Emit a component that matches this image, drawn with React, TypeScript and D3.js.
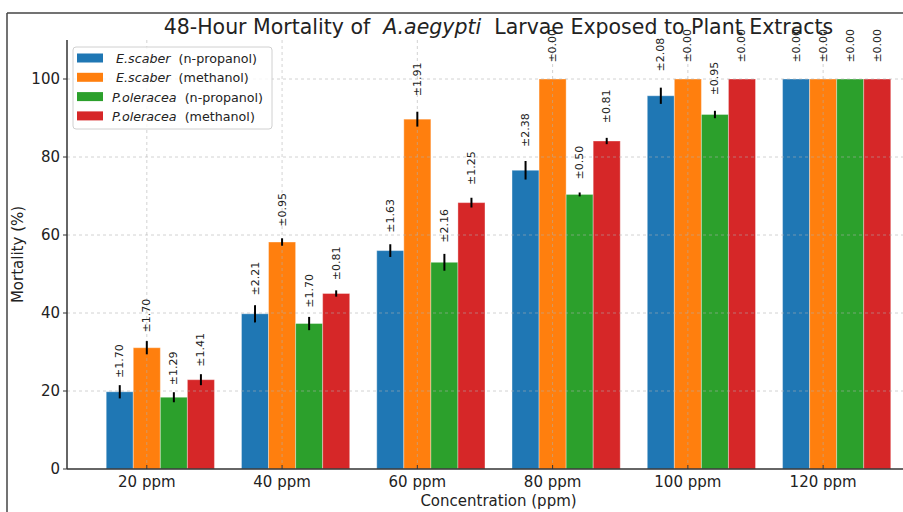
import React from "react";
import * as d3 from "d3";

const categories = ["20 ppm", "40 ppm", "60 ppm", "80 ppm", "100 ppm", "120 ppm"];
const seriesSpecies = ["E.scaber", "E.scaber", "P.oleracea", "P.oleracea"];
const seriesSolvent = ["(n-propanol)", "(methanol)", "(n-propanol)", "(methanol)"];
const seriesColors = ["#1f77b4", "#ff7f0e", "#2ca02c", "#d62728"];

const esNprop = [19.8, 39.8, 56.0, 76.6, 95.7, 100];
const esMeth = [31.1, 58.2, 89.7, 100, 100, 100];
const poNprop = [18.4, 37.3, 53.0, 70.4, 90.9, 100];
const poMeth = [22.9, 45.0, 68.3, 84.1, 100, 100];

const esNpropErr = [1.7, 2.21, 1.63, 2.38, 2.08, 0.0];
const esMethErr = [1.7, 0.95, 1.91, 0.0, 0.0, 0.0];
const poNpropErr = [1.29, 1.7, 2.16, 0.5, 0.95, 0.0];
const poMethErr = [1.41, 0.81, 1.25, 0.81, 0.0, 0.0];

const yTicks = [0, 20, 40, 60, 80, 100];

const values = [esNprop, esMeth, poNprop, poMeth];
const errors = [esNpropErr, esMethErr, poNpropErr, poMethErr];

const FONT = "DejaVu Sans, sans-serif";

export default function App() {
  const W = 903;
  const H = 512;
  const left = 67;
  const right = 930;
  const top = 40;
  const bottom = 469;
  const barW = 0.2;

  const x = d3.scaleLinear().domain([-0.59, 5.79]).range([left, right]);
  const y = d3.scaleLinear().domain([0, 110]).range([bottom, top]);
  const bw = x(barW) - x(0);

  const bars: React.ReactNode[] = [];
  const errs: React.ReactNode[] = [];
  const labels: React.ReactNode[] = [];
  values.forEach((vals, s) => {
    vals.forEach((v, i) => {
      const cx = x(i + (s - 1) * barW);
      const e = errors[s][i];
      bars.push(
        <rect
          key={`b${s}-${i}`}
          x={cx - bw / 2}
          y={y(v)}
          width={bw}
          height={y(0) - y(v)}
          fill={seriesColors[s]}
          stroke="#ffffff"
          strokeOpacity={0.35}
          strokeWidth={1}
        />
      );
      if (e > 0) {
        errs.push(
          <line
            key={`e${s}-${i}`}
            x1={cx}
            x2={cx}
            y1={y(v - e)}
            y2={y(v + e)}
            stroke="#000"
            strokeWidth={2}
          />
        );
      }
      const ly = y((v + e) * 1.03 + 1.2);
      labels.push(
        <text
          key={`l${s}-${i}`}
          transform={`translate(${cx},${ly}) rotate(-90)`}
          fontSize={11}
          fontFamily={FONT}
          fill="#222"
          dominantBaseline="central"
          textAnchor="start"
        >
          {"±" + e.toFixed(2)}
        </text>
      );
    });
  });

  return (
    <svg
      width={W}
      height={H}
      style={{ position: "absolute", left: 0, top: 0, background: "#fff" }}
      fontFamily={FONT}
    >
      <rect x={0} y={0} width={W} height={H} fill="#fff" />
      {/* outer frame */}
      <line x1={7} x2={W} y1={13} y2={13} stroke="#444" strokeWidth={1.5} />
      <line x1={7} x2={7} y1={13} y2={H} stroke="#444" strokeWidth={1.5} />

      {bars}

      {/* grid */}
      {yTicks.filter((t) => t > 0).map((t) => (
        <line
          key={`gy${t}`}
          x1={left}
          x2={right}
          y1={y(t)}
          y2={y(t)}
          stroke="#b0b0b0"
          strokeWidth={0.8}
          strokeDasharray="3,3"
          opacity={0.7}
        />
      ))}
      {categories.map((c, i) => (
        <line
          key={`gx${i}`}
          x1={x(i)}
          x2={x(i)}
          y1={top}
          y2={bottom}
          stroke="#b0b0b0"
          strokeWidth={0.8}
          strokeDasharray="3,3"
          opacity={0.7}
        />
      ))}

      {errs}
      {labels}

      {/* axes */}
      <line x1={left} x2={left} y1={top} y2={bottom} stroke="#333" strokeWidth={1.5} />
      <line x1={left} x2={right} y1={bottom} y2={bottom} stroke="#333" strokeWidth={1.5} />

      {yTicks.map((t) => (
        <g key={`yt${t}`}>
          <line x1={left - 4} x2={left} y1={y(t)} y2={y(t)} stroke="#333" strokeWidth={1} />
          <text
            x={left - 7}
            y={y(t)}
            textAnchor="end"
            dominantBaseline="central"
            fontSize={15}
            fill="#222"
          >
            {t}
          </text>
        </g>
      ))}
      {categories.map((c, i) => (
        <g key={`xt${i}`}>
          <line x1={x(i)} x2={x(i)} y1={bottom} y2={bottom - 4} stroke="#333" strokeWidth={1} />
          <text
            x={x(i)}
            y={bottom + 18}
            textAnchor="middle"
            fontSize={15}
            fill="#222"
          >
            {c}
          </text>
        </g>
      ))}

      <text x={(left + right) / 2} y={506} textAnchor="middle" fontSize={15} fill="#222">
        Concentration (ppm)
      </text>
      <text
        transform={`translate(23,${(top + bottom) / 2}) rotate(-90)`}
        textAnchor="middle"
        fontSize={15}
        fill="#222"
      >
        Mortality (%)
      </text>

      <text x={(left + right) / 2} y={34} textAnchor="middle" fontSize={20.5} fill="#222" xmlSpace="preserve">
        <tspan>48-Hour Mortality of </tspan>
        <tspan fontStyle="italic"> A.aegypti </tspan>
        <tspan> Larvae Exposed to Plant Extracts</tspan>
      </text>

      {/* legend */}
      <rect
        x={73}
        y={47}
        width={199}
        height={82}
        rx={3}
        fill="#fff"
        fillOpacity={0.8}
        stroke="#d0d0d0"
        strokeWidth={1}
      />
      {seriesSpecies.map((sp, s) => {
        const cy = 58 + s * 19.3;
        return (
          <g key={`lg${s}`}>
            <rect x={77} y={cy - 4.5} width={26} height={9} fill={seriesColors[s]} />
            <text x={112} y={cy} dominantBaseline="central" fontSize={12.7} fill="#222" xmlSpace="preserve">
              <tspan fontStyle="italic">{(s < 2 ? " " : "") + sp}</tspan>
              <tspan>{"  " + seriesSolvent[s]}</tspan>
            </text>
          </g>
        );
      })}
    </svg>
  );
}
